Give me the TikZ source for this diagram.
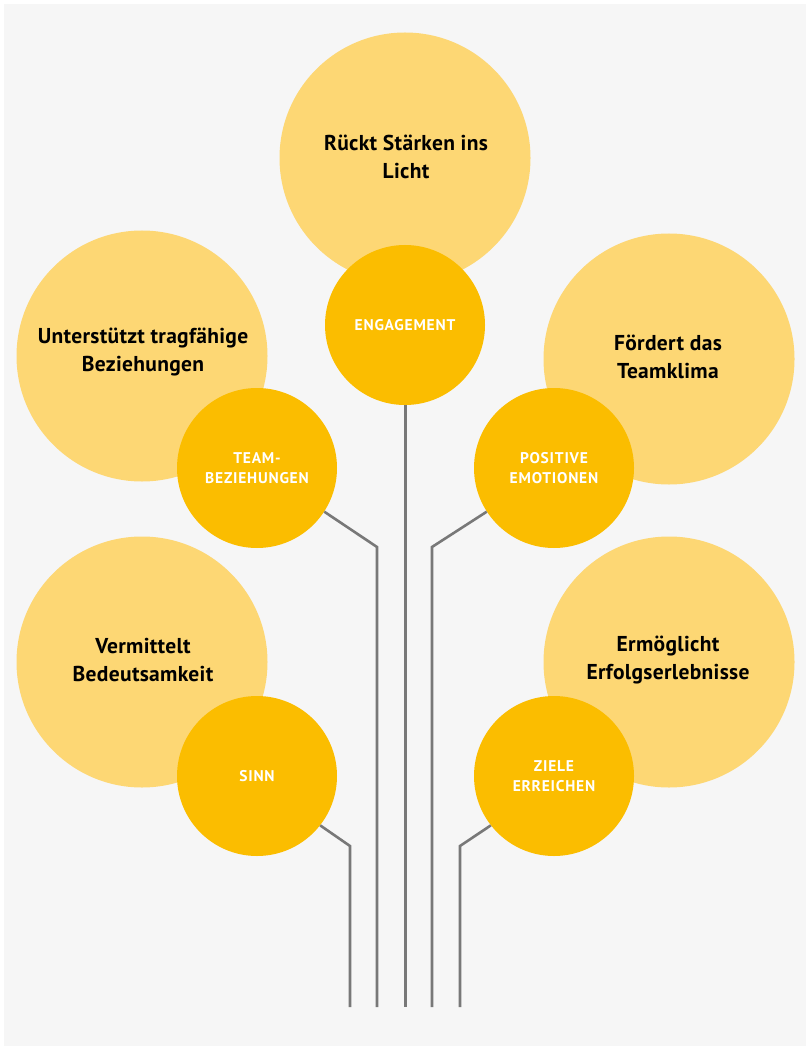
\documentclass[tikz,border=0pt]{standalone}
\usepackage{fontspec}
\setmainfont{PT Sans}
\definecolor{bgc}{HTML}{F6F6F6}
\definecolor{lightc}{HTML}{FDD774}
\definecolor{darkc}{HTML}{FBBD00}
\definecolor{stemc}{HTML}{787878}
\begin{document}
\begin{tikzpicture}[x=1pt,y=-1pt,
  big/.style={circle,fill=lightc,minimum size=251pt,inner sep=0pt},
  bigtext/.style={align=center,text=black,font=\bfseries\fontsize{21.5}{27.5}\selectfont\addfontfeatures{LetterSpace=1.5}},
  small/.style={circle,fill=darkc,minimum size=160pt,inner sep=0pt,align=center,text=white,font=\bfseries\fontsize{15.5}{19.5}\selectfont\addfontfeatures{LetterSpace=5}},
  stemline/.style={draw=stemc,line width=2.6pt},
]
\useasboundingbox (0,0) rectangle (807,1048);
\fill[white] (0,0) rectangle (807,1048);
\fill[bgc] (4,4) rectangle (806,1046);

% big circles
\node[big] (bTop) at (405,158) {};
\node[big] (bL1) at (142,356) {};
\node[big] (bR1) at (669,359) {};
\node[big] (bL2) at (142,662) {};
\node[big] (bR2) at (669,662) {};

\node[bigtext] (tTop) at (406,157) {Rückt Stärken ins\\Licht};
\node[bigtext] (tL1) at (143,352) {Unterstützt tragfähige\\Beziehungen};
\node[bigtext] (tR1) at (668,357) {Fördert das\\Teamklima};
\node[bigtext] (tL2) at (143,660) {Vermittelt\\Bedeutsamkeit};
\node[bigtext] (tR2) at (668,660) {Ermöglicht\\Erfolgserlebnisse};

% small circles
\node[small] (eng) at (405,325) {ENGAGEMENT};
\node[small] (team) at (257,468) {TEAM-\\BEZIEHUNGEN};
\node[small] (pos) at (554,468) {POSITIVE\\EMOTIONEN};
\node[small] (sinn) at (257,776) {SINN};
\node[small] (ziele) at (554,776) {ZIELE\\ERREICHEN};

% stems
\coordinate (kTeam) at (377,547);
\coordinate (kPos) at (432,547);
\coordinate (kSinn) at (350,846);
\coordinate (kZiele) at (460,846);
\coordinate (eSinn) at (350,1007);
\coordinate (eTeam) at (377,1007);
\coordinate (eEng) at (405,1007);
\coordinate (ePos) at (432,1007);
\coordinate (eZiele) at (460,1007);

\draw[stemline,line width=3pt] (eng.south) -- (eEng);
\draw[stemline] (team.-33) -- (kTeam) -- (eTeam);
\draw[stemline] (pos.-147) -- (kPos) -- (ePos);
\draw[stemline] (sinn.-38) -- (kSinn) -- (eSinn);
\draw[stemline] (ziele.-142) -- (kZiele) -- (eZiele);
\end{tikzpicture}
\end{document}
